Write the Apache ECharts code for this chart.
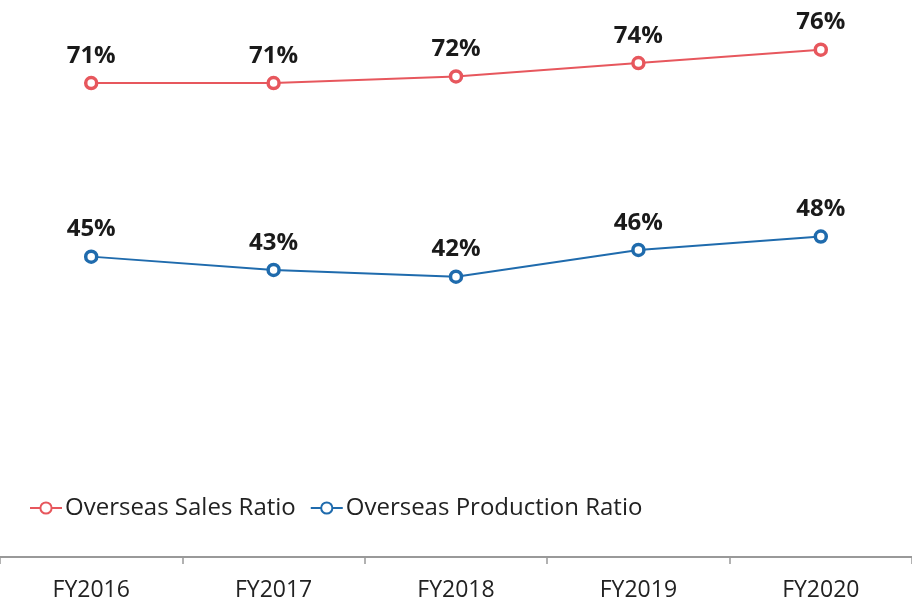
<!DOCTYPE html>
<html>
<head>
<meta charset="utf-8">
<script src="https://cdn.jsdelivr.net/npm/echarts@6/dist/echarts.min.js"></script>
<style>html,body{margin:0;padding:0;background:#fff;}#c{width:912px;height:610px;}</style>
</head>
<body>
<div id="c"></div>
<script>
const categories = ['FY2016', 'FY2017', 'FY2018', 'FY2019', 'FY2020'];
const salesRatio = [71, 71, 72, 74, 76];
const productionRatio = [45, 43, 42, 46, 48];
const seriesNames = ['Overseas Sales Ratio', 'Overseas Production Ratio'];

const chart = echarts.init(document.getElementById('c'));
const labelStyle = {
  show: true, position: 'top', distance: 8,
  formatter: p => p.value + '%',
  fontFamily: 'Open Sans', fontWeight: 'bold', fontSize: 24, color: '#1a1a1a'
};
chart.setOption({
  animation: false,
  backgroundColor: '#fff',
  grid: { left: -1, right: -2, top: 23, bottom: 53, containLabel: false },
  legend: {
    left: 24, top: 491, itemGap: 14, itemWidth: 32, itemHeight: 14,
    textStyle: { fontFamily: 'Open Sans', fontSize: 24, color: '#222', padding: [0, 0, 0, -2] },
    data: seriesNames
  },
  xAxis: {
    type: 'category', data: categories, boundaryGap: true,
    axisLine: { lineStyle: { color: '#999', width: 2 } },
    axisTick: { show: true, length: 7, lineStyle: { color: '#999', width: 1.5 } },
    axisLabel: { fontFamily: 'Open Sans', fontSize: 23, color: '#222', margin: 22 }
  },
  yAxis: {
    type: 'value', min: 0, max: 80, show: false, splitLine: { show: false }
  },
  series: [
    {
      name: seriesNames[0], type: 'line', data: salesRatio,
      symbol: 'circle', symbolSize: 11,
      lineStyle: { color: '#E7575D', width: 2 },
      itemStyle: { color: '#fff', borderColor: '#E7575D', borderWidth: 3.5 },
      label: labelStyle
    },
    {
      name: seriesNames[1], type: 'line', data: productionRatio,
      symbol: 'circle', symbolSize: 11,
      lineStyle: { color: '#1F6BAD', width: 2 },
      itemStyle: { color: '#fff', borderColor: '#1F6BAD', borderWidth: 3.5 },
      label: labelStyle
    }
  ]
});
</script>
</body>
</html>
